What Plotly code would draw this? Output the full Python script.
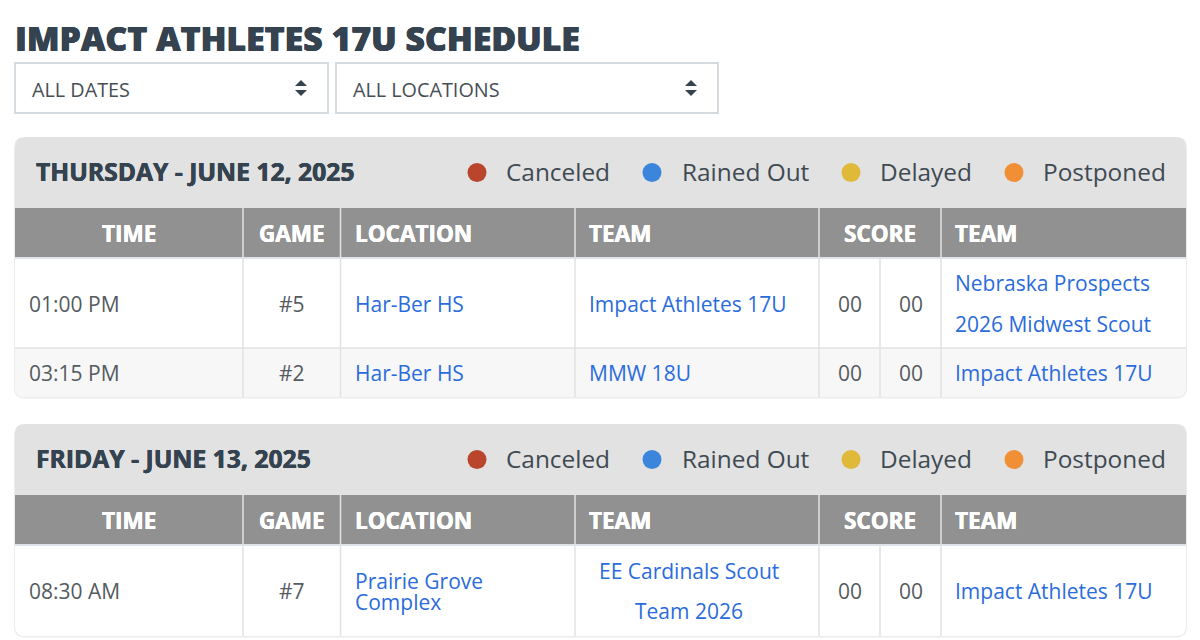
import plotly.graph_objects as go

TITLE = "IMPACT ATHLETES 17U SCHEDULE"
FILTERS = ["ALL DATES", "ALL LOCATIONS"]
DAYS = ["THURSDAY - JUNE 12, 2025", "FRIDAY - JUNE 13, 2025"]
STATUS_NAMES = ["Canceled", "Rained Out", "Delayed", "Postponed"]
STATUS_COLORS = ["#b9452c", "#3b86dc", "#e0b93a", "#f08f35"]
HEADERS = ["TIME", "GAME", "LOCATION", "TEAM", "SCORE", "TEAM"]

TIMES = [["01:00 PM", "03:15 PM"], ["08:30 AM"]]
GAMES = [["#5", "#2"], ["#7"]]
LOCATIONS = [[["Har-Ber HS"], ["Har-Ber HS"]], [["Prairie Grove", "Complex"]]]
TEAMS_A = [[["Impact Athletes 17U"], ["MMW 18U"]], [["EE Cardinals Scout", "Team 2026"]]]
SCORES_A = [["00", "00"], ["00"]]
SCORES_B = [["00", "00"], ["00"]]
TEAMS_B = [[["Nebraska Prospects", "2026 Midwest Scout"], ["Impact Athletes 17U"]], [["Impact Athletes 17U"]]]

FONT = "Open Sans"
DARK = "#34434f"
GREY = "#555b60"
LINK = "#2b6cdc"
LINE = "#e2e2e2"

# page geometry, in pixels of the 1200x640 window
LEFT, RIGHT = 15, 1186
COLS = [15, 243, 340.5, 575, 819, 880, 941, 1186]
CARDS = [
    dict(top=137, head=208, body=259, rows=[259, 348, 397]),
    dict(top=424, head=495, body=546, rows=[546, 636]),
]
DOT_X = [477, 652, 851, 1014]
NAME_X = [506, 682, 880, 1043]

shapes = []
notes = []


def rect(x0, y0, x1, y1, fill, line=None, width=1):
    shapes.append(dict(type="rect", x0=x0, y0=y0, x1=x1, y1=y1, fillcolor=fill,
                       line=dict(color=line or fill, width=width if line else 0), layer="below"))


def vline(x, y0, y1, color=LINE, width=1.5):
    shapes.append(dict(type="line", x0=x, x1=x, y0=y0, y1=y1, line=dict(color=color, width=width), layer="below"))


def rounded(x0, y0, x1, y1, r_top, r_bottom, fill):
    path = (f"M {x0} {y0 + r_top} Q {x0} {y0} {x0 + r_top} {y0} L {x1 - r_top} {y0} Q {x1} {y0} {x1} {y0 + r_top} "
            f"L {x1} {y1 - r_bottom} Q {x1} {y1} {x1 - r_bottom} {y1} L {x0 + r_bottom} {y1} Q {x0} {y1} {x0} {y1 - r_bottom} Z")
    shapes.append(dict(type="path", path=path, fillcolor=fill, line=dict(width=0), layer="below"))


def label(x, y, text, size, color, anchor="left", weight=400, shadow=None):
    font = dict(family=FONT, size=size, color=color, weight=weight)
    if shadow:
        font["shadow"] = shadow
    notes.append(dict(x=x, y=y, text=text, showarrow=False, xanchor=anchor, yanchor="middle",
                      xref="x", yref="y", align=anchor, borderpad=0, borderwidth=0, font=font))


def cell_lines(x, y0, y1, lines, size, color, anchor, gap):
    mid = (y0 + y1) / 2
    for i, line in enumerate(lines):
        label(x, mid + (i - (len(lines) - 1) / 2) * gap, line, size, color, anchor)


label(15, 38, TITLE, 33.8, DARK, weight=800, shadow=f"0.4px 0 0 {DARK}, -0.3px 0 0 {DARK}")

# the two dropdowns
for (x0, x1), text in zip([(15, 328), (336, 718)], FILTERS):
    rect(x0, 63, x1, 113, "#ffffff", "#d5dbde", 2)
    label(x0 + 17, 89, text, 19.8, "#474e54")
    ax = x1 - 27
    shapes.append(dict(type="path", path=f"M {ax - 6} 86 L {ax} 80 L {ax + 6} 86 Z", fillcolor=DARK, line=dict(width=0)))
    shapes.append(dict(type="path", path=f"M {ax - 6} 90 L {ax} 96 L {ax + 6} 90 Z", fillcolor=DARK, line=dict(width=0)))

dot_x, dot_y, dot_c = [], [], []
for d, card in enumerate(CARDS):
    bottom = card["rows"][-1]
    rounded(LEFT - 1, card["top"], RIGHT + 1, bottom + 1.5, 11, 11, "#ececec")
    rounded(LEFT, card["top"], RIGHT, bottom, 10, 10, "#ffffff")
    rounded(LEFT, card["top"], RIGHT, card["head"], 10, 0, "#e2e2e2")
    band_y = (card["top"] + card["head"]) / 2
    label(36, band_y - 1, DAYS[d], 24.7, DARK, weight=700, shadow=f"0.3px 0 0 {DARK}, -0.3px 0 0 {DARK}")
    for x, name in zip(NAME_X, STATUS_NAMES):
        label(x, band_y - 1, name, 24.4, "#3f4a53")
    for x, color in zip(DOT_X, STATUS_COLORS):
        dot_x.append(x)
        dot_y.append(band_y)
        dot_c.append(color)

    # header row
    head_bottom = card["head"] + 49
    rect(COLS[0], card["head"], COLS[-1], head_bottom, "#919191")
    rect(COLS[0], head_bottom, COLS[-1], card["body"], "#dfe3e8")
    head_mid = (card["head"] + head_bottom) / 2 + 1
    for x, text, anchor in zip([129, 292, 355, 589, 880, 955], HEADERS,
                               ["center", "center", "left", "left", "center", "left"]):
        label(x, head_mid, text, 22.5, "#ffffff", anchor, 700, "0.3px 0 0 #ffffff, -0.3px 0 0 #ffffff")

    # body rows
    for r in range(len(TIMES[d])):
        y0, y1 = card["rows"][r], card["rows"][r + 1]
        if r % 2:
            rounded(LEFT, y0, RIGHT, y1, 0, 10, "#f7f7f7")
        if r:
            shapes.append(dict(type="line", x0=COLS[0], x1=COLS[-1], y0=y0, y1=y0, line=dict(color=LINE, width=1.5), layer="below"))
        cell_lines(29, y0, y1, [TIMES[d][r]], 21, GREY, "left", 0)
        cell_lines(292, y0, y1, [GAMES[d][r]], 21, GREY, "center", 0)
        cell_lines(355, y0, y1, LOCATIONS[d][r], 21, LINK, "left", 21)
        team_a = TEAMS_A[d][r]
        if len(team_a) > 1:
            cell_lines(689, y0, y1, team_a, 21, LINK, "center", 40.5)
        else:
            cell_lines(589, y0, y1, team_a, 21, LINK, "left", 40.5)
        cell_lines(850, y0, y1, [SCORES_A[d][r]], 21, GREY, "center", 0)
        cell_lines(911, y0, y1, [SCORES_B[d][r]], 21, GREY, "center", 0)
        cell_lines(955, y0, y1, TEAMS_B[d][r], 21, LINK, "left", 40.5)

    for x in COLS[1:7]:
        if x != 880:
            vline(x, card["head"], bottom)
        else:
            vline(x, card["body"], bottom)

fig = go.Figure(go.Scatter(x=dot_x, y=dot_y, mode="markers", hoverinfo="skip", showlegend=False,
                           marker=dict(size=19, color=dot_c, line=dict(width=0))))
fig.update_layout(
    width=1200, height=640, margin=dict(l=0, r=0, t=0, b=0),
    paper_bgcolor="#ffffff", plot_bgcolor="#ffffff",
    shapes=shapes, annotations=notes, showlegend=False,
)
fig.update_xaxes(range=[0, 1200], visible=False, fixedrange=True)
fig.update_yaxes(range=[640, 0], visible=False, fixedrange=True)

fig.write_html("out.html", config=dict(displayModeBar=False), post_script="document.body.style.margin='0';")
